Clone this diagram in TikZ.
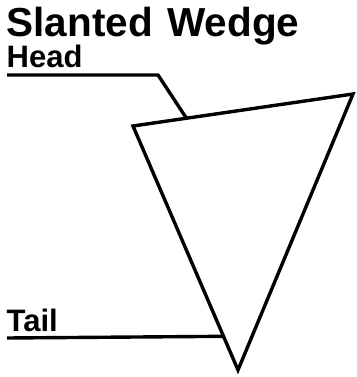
\documentclass[tikz,border=0pt]{standalone}
\usepackage{fontspec}
\setmainfont{Liberation Sans}
\usetikzlibrary{calc}
\begin{document}
\begin{tikzpicture}[x=1pt, y=-1pt, line width=3.4pt, line join=miter,
    label text/.style={anchor=base west, inner sep=0pt, font=\bfseries\fontsize{31}{31}\selectfont}]
            \useasboundingbox (0, 0) rectangle (356, 377);

            % Title
            \node [label text, font=\bfseries\fontsize{40.5}{40.5}\selectfont] (title) at (5, 37) {Slanted\hspace{0.08em} Wedge};

            % Wedge
            \coordinate (left) at (133, 126);
            \coordinate (right) at (353, 94);
            \coordinate (tip) at (238, 370);
            \draw (left) -- (right) -- (tip) -- cycle;

            % Head
            \node [label text] (head) at (5, 68) {Head};
            \coordinate (headStart) at (7, 75);
            \coordinate (headBend) at (158, 75);
            \coordinate (headEnd) at ($(left)!0.243!(right)$);
            \draw (headStart) -- (headBend) -- (headEnd);

            % Tail
            \node [label text] (tail) at (5, 331) {Tail};
            \coordinate (tailStart) at (7, 338);
            \coordinate (tailEnd) at ($(left)!0.862!(tip)$);
            \draw (tailStart) -- (tailEnd);

          \end{tikzpicture}
\end{document}
